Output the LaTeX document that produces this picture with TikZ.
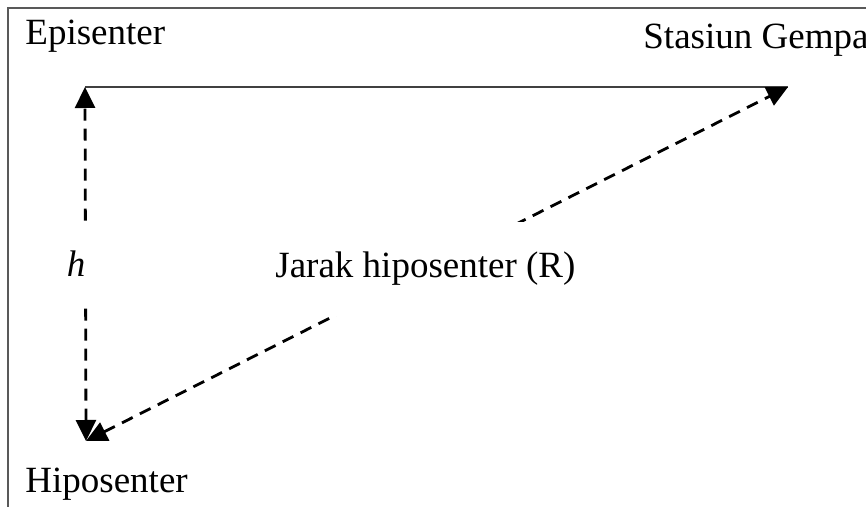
\documentclass[tikz,border=0pt]{standalone}
\usepackage{fontspec}
\setmainfont{Liberation Serif}
\usetikzlibrary{arrows.meta}
\tikzstyle{bingkai} = [draw, line width=1pt, color=black!65]
\tikzstyle{teks} = [inner sep=0pt, font=\fontsize{18.5}{22}\selectfont]
\tikzstyle{tutup} = [teks, fill=white]
\tikzstyle{garis} = [draw, line width=1pt, color=black!75]
\tikzstyle{garisputus} = [draw, line width=1.4pt, dash pattern=on 6pt off 4pt]
\tikzstyle{duapanah} = [{Triangle[length=10.5pt,width=10pt]}-{Triangle[length=10.5pt,width=10pt]}]

\begin{document}
\begin{tikzpicture}[x=0.5pt,y=-0.5pt]

  \useasboundingbox (0,0) rectangle (866,507);
  \path[bingkai] (8,8) rectangle (875,515);

  % Points of the triangle
  \coordinate (epi) at (85,87);
  \coordinate (sta) at (788,87);
  \coordinate (hipo) at (86,441);

  % Draw arrows between points
  \path [garis] (epi) -- (sta);
  \path [garisputus, duapanah] (hipo) -- (epi);
  \path [garisputus, duapanah] (hipo) -- (sta);

  % Draw labels
  \path (25,45) node (tepi) [teks, anchor=base west] {Episenter};
  \path (643,49) node (tsta) [teks, anchor=base west] {Stasiun Gempa};
  \path (25,492) node (thipo) [teks, anchor=base west] {Hiposenter};
  \path (76,264) node (th) [tutup, minimum width=16pt, minimum height=42.5pt] {\textit{h}};
  \path (275,278) node (tjarak) [tutup, anchor=base west, minimum height=47pt] {Jarak hiposenter (R)};

\end{tikzpicture}
\end{document}
